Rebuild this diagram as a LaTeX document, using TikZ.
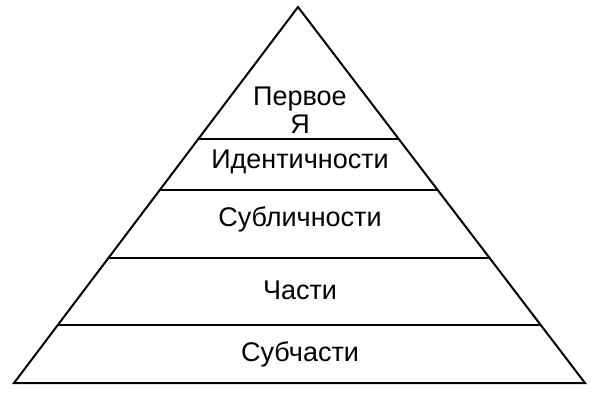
\documentclass[tikz,border=0pt]{standalone}
\usepackage{fontspec}
\setmainfont{Liberation Sans}
\usetikzlibrary{calc}

\begin{document}
\begin{tikzpicture}[x=1pt,y=-1pt,line width=2pt,
   level/.style={font=\fontsize{27}{28}\selectfont, align=center}]
   \useasboundingbox (0,0) rectangle (600,400);
   \coordinate (apex) at (298,7);
   \coordinate (bl) at (14,383);
   \coordinate (br) at (585,383);
   \draw (apex) -- (bl) -- (br) -- cycle;
   \foreach \t in {0.351,0.487,0.668,0.846}
     \draw ($(apex)!\t!(bl)$) -- ($(apex)!\t!(br)$);
   \node[level] (self) at (300,110) {Первое\\Я};
   \node[level] (ident) at (300,162) {Идентичности};
   \node[level] (subpers) at (300,219) {Субличности};
   \node[level] (parts) at (300,290) {Части};
   \node[level] (subparts) at (300,354) {Субчасти};
\end{tikzpicture}
\end{document}
